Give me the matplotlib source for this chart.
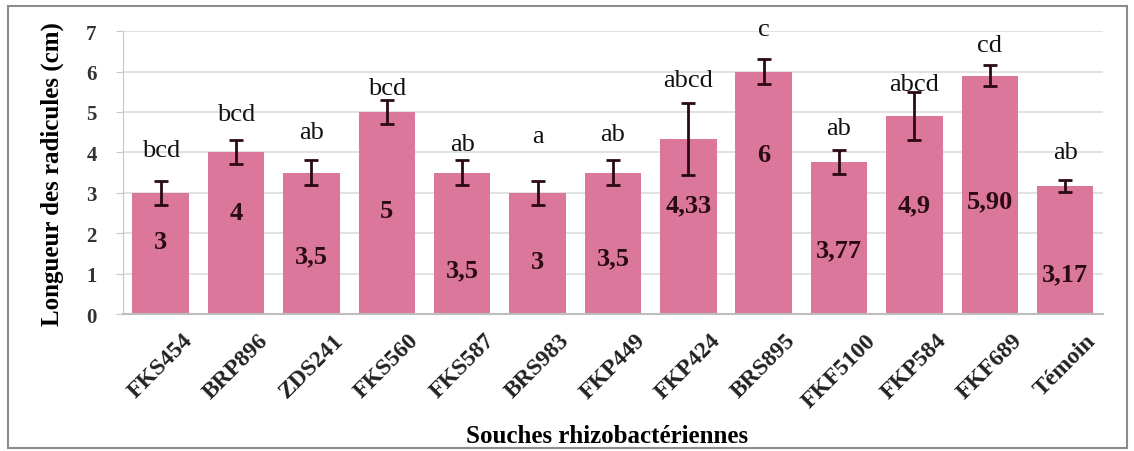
import matplotlib.pyplot as plt
from matplotlib.patches import Rectangle

# Root length per rhizobacterial strain
strains = ['FKS454', 'BRP896', 'ZDS241', 'FKS560', 'FKS587', 'BRS983', 'FKP449',
           'FKP424', 'BRS895', 'FKF5100', 'FKP584', 'FKF689', 'Témoin']
lengths = [3, 4, 3.5, 5, 3.5, 3, 3.5, 4.33, 6, 3.77, 4.9, 5.90, 3.17]
errors = [0.3, 0.3, 0.3, 0.3, 0.3, 0.3, 0.3, 0.9, 0.3, 0.3, 0.6, 0.25, 0.15]
value_text = ['3', '4', '3,5', '5', '3,5', '3', '3,5', '4,33', '6', '3,77', '4,9', '5,90', '3,17']
groups = ['bcd', 'bcd', 'ab', 'bcd', 'ab', 'a', 'ab', 'abcd', 'c', 'ab', 'abcd', 'cd', 'ab']

# where the labels sit (data units)
value_y = [1.8, 2.5, 1.45, 2.55, 1.1, 1.3, 1.4, 2.7, 3.95, 1.6, 2.7, 2.8, 1.0]
group_y = [4.05, 4.95, 4.5, 5.6, 4.2, 4.4, 4.45, 5.8, 7.05, 4.6, 5.7, 6.65, 4.0]

serif = 'Liberation Serif'
bar_color = '#db779a'
dark = '#2a0a14'

fig = plt.figure(figsize=(11.34, 4.52), dpi=100)
ax = fig.add_axes([0.1085, 0.303, 0.864, 0.626])

x = range(len(strains))
ax.bar(x, lengths, width=0.75, color=bar_color, zorder=2)
ax.errorbar(x, lengths, yerr=errors, fmt='none', ecolor=dark, elinewidth=2,
            capsize=5, capthick=2, zorder=3)

for i in x:
    ax.text(i, value_y[i], value_text[i], ha='center', va='center',
            fontsize=19, fontweight='bold', family=serif, color=dark, zorder=4)
    ax.text(i, group_y[i], groups[i], ha='center', va='center',
            fontsize=19, family=serif, color='#111111', zorder=4, clip_on=False)

ax.set_xlim(-0.5, len(strains) - 0.5)
ax.set_ylim(0, 7)
ax.set_yticks(range(8))
ax.yaxis.grid(True, color='#dddddd', linewidth=1.2, zorder=0)
ax.set_axisbelow(True)

for side in ['top', 'right']:
    ax.spines[side].set_visible(False)
ax.spines['left'].set_color('#c8c8c8')
ax.spines['bottom'].set_color('#bdbdbd')
ax.spines['bottom'].set_linewidth(1.5)

ax.tick_params(axis='y', length=5, color='#c8c8c8', pad=14)
ax.tick_params(axis='x', length=0, pad=11)
ax.set_xticks(list(x))
ax.set_xticklabels(strains, rotation=45, ha='center', va='top',
                   fontsize=17, fontweight='bold', family=serif, color='#222222')
for lab in ax.get_yticklabels():
    lab.set_fontsize(15)
    lab.set_fontweight('bold')
    lab.set_family(serif)
    lab.set_color('#333333')

ax.set_ylabel('Longueur des radicules (cm)', fontsize=18, fontweight='bold',
              family=serif, labelpad=16)
fig.text(0.535, 0.035, 'Souches rhizobactériennes', ha='center', va='center',
         fontsize=18, fontweight='bold', family=serif)

# outer frame around the whole chart
fig.patches.append(Rectangle((0.007, 0.006), 0.987, 0.978, transform=fig.transFigure,
                             fill=False, edgecolor='#8c8c8c', linewidth=1.5))

fig.savefig('out.png', dpi=100)
